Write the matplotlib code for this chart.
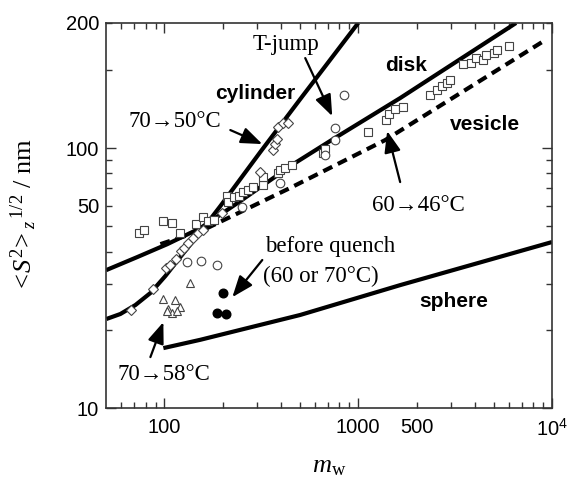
import matplotlib
matplotlib.use('Agg')
import matplotlib.pyplot as plt
from matplotlib.ticker import FixedLocator, FixedFormatter

plt.rcParams['font.family'] = ['Liberation Sans', 'DejaVu Sans']
plt.rcParams['mathtext.fontset'] = 'custom'
plt.rcParams['mathtext.rm'] = 'Liberation Serif'
plt.rcParams['mathtext.it'] = 'Liberation Serif:italic'
plt.rcParams['mathtext.sf'] = 'Liberation Sans'

# theory curves (m_w, <S2>_z^1/2 in nm)
cyl_m = [50.2, 59.3, 70.9, 84.7, 101.2, 120.9, 153.3, 194.4, 312.4, 502, 1000]
cyl_r = [22.0, 23.0, 24.9, 27.7, 32.2, 38.1, 47.5, 59.8, 96.5, 154.2, 302.8]
disk_m = [50, 72.6, 103.6, 153.3, 246.5, 462, 743, 1646, 6520]
disk_r = [33.9, 38.1, 42.7, 49.2, 62.5, 86.7, 108.3, 155.7, 302.8]
ves_m = [95.4, 158.8, 445, 1377, 9204]
ves_r = [42.7, 48.4, 70.2, 107.3, 260]
sph_m = [98.8, 153.3, 502, 1646, 10000]
sph_r = [17.0, 18.3, 22.8, 29.7, 43.5]

# measured points
sq_m = [74.3, 78.9, 98.8, 110, 120.9, 146.2, 158.9, 168.6, 181, 211.3, 213.8,
        229.6, 243.6, 255.5, 271, 287.6, 323.8, 323.8, 386.9, 396.3, 420.5,
        456.8, 660, 676, 1126, 1394, 1445, 1551, 1706, 2350, 2554, 2710, 2876,
        2980, 3476, 3823, 4057, 4409, 4568, 5023, 5207, 6002]
sq_r = [47.1, 48.4, 52.4, 51.5, 47.1, 51.0, 54.3, 52.4, 52.9, 65.4, 62.0,
        64.8, 65.4, 67.7, 69.0, 70.8, 72.1, 77.4, 80.1, 82.3, 83.8,
        86.0, 95.7, 99.1, 115.2, 128.1, 135.1, 141.3, 143.8, 159.9, 167.1, 173.2, 177.8,
        182.6, 210.4, 212.3, 221.9, 218.0, 227.9, 232.0, 238.2, 246.8]
dia_m = [67.6, 87.8, 102.4, 107.4, 115.3, 122.3, 126.8, 132.9, 141.1, 149.7,
         158.9, 199.1, 312.5, 364.6, 373.4, 382.3, 386.9, 410.6, 435.7]
dia_r = [23.8, 28.7, 34.6, 35.5, 37.4, 40.2, 41.2, 43.1, 45.1, 47.1,
         48.4, 56.2, 80.8, 98.2, 103.6, 108.3, 120.4, 124.8, 124.8]
cir_m = [131.4, 155.1, 187.6, 252.5, 396.3, 676, 761, 761, 847]
cir_r = [36.4, 36.8, 35.5, 59.3, 73.3, 94.0, 107.4, 119.4, 159.9]
tri_m = [136.2, 98.8, 113.9, 104.9, 120.9, 110, 103.6, 116.7]
tri_r = [30.3, 26.3, 26.0, 24.0, 24.5, 23.2, 23.6, 23.6]
fill_m = [201.4, 187.6, 208.7]
fill_r = [27.7, 23.2, 23.0]

fig = plt.figure(figsize=(5.67, 4.84), dpi=100)
ax = fig.add_axes([0.187, 0.157, 0.7866, 0.7955])
ax.set_xscale('log')
ax.set_yscale('log')
ax.set_xlim(50, 10000)
ax.set_ylim(10, 302.8)

lw = 3.0
ax.plot(cyl_m, cyl_r, color='black', lw=lw, solid_capstyle='butt', zorder=2)
ax.plot(disk_m, disk_r, color='black', lw=lw, solid_capstyle='butt', zorder=2)
ax.plot(ves_m, ves_r, color='black', lw=lw, ls=(0, (2.4, 1.5)), dash_capstyle='butt', zorder=2)
ax.plot(sph_m, sph_r, color='black', lw=lw, solid_capstyle='butt', zorder=2)

mk = dict(ls='none', mfc='white', mec='#444444', mew=0.8, zorder=3)
ax.plot(sq_m, sq_r, marker='s', ms=5.4, **mk)
ax.plot(dia_m, dia_r, marker='D', ms=4.8, **mk)
ax.plot(cir_m, cir_r, marker='o', ms=6.2, **mk)
ax.plot(tri_m, tri_r, marker='^', ms=6.0, **mk)
ax.plot(fill_m, fill_r, marker='o', ms=6.2, ls='none', mfc='black', mec='black', zorder=3)

# ticks
ax.xaxis.set_major_locator(FixedLocator([100, 1000, 10000]))
ax.xaxis.set_major_formatter(FixedFormatter(['100', '1000', r'$\mathsf{10^4}$']))
xminor = [60, 70, 80, 90] + [k * 100 for k in range(2, 10)] + [k * 1000 for k in range(2, 10)]
ax.xaxis.set_minor_locator(FixedLocator(xminor))
ax.xaxis.set_minor_formatter(FixedFormatter(['500' if v == 2000 else '' for v in xminor]))

ax.yaxis.set_major_locator(FixedLocator([10, 100]))
ax.yaxis.set_major_formatter(FixedFormatter(['10', '100']))
yminor = [20, 30, 40, 50, 60, 70, 80, 90, 200, 302.8]
ylab = {60: '50', 302.8: '200'}
ax.yaxis.set_minor_locator(FixedLocator(yminor))
ax.yaxis.set_minor_formatter(FixedFormatter([ylab.get(v, '') for v in yminor]))

ax.tick_params(which='both', direction='in', top=True, right=True,
               labelsize=14.5, color='#333333', width=1.0)
ax.tick_params(which='major', length=7)
ax.tick_params(which='minor', length=4.5)
ax.tick_params(axis='x', which='both', pad=7)
ax.tick_params(axis='y', which='both', pad=5)
for s in ax.spines.values():
    s.set_color('#333333')
    s.set_linewidth(1.2)

ax.set_xlabel(r'$m_{\mathrm{w}}$', fontsize=19)
ax.xaxis.set_label_coords(0.5, -0.12)
ax.set_ylabel(r'$<\!S^2\!>_z{}^{\,1/2}$ / nm', fontsize=19, family='Liberation Serif')
ax.yaxis.set_label_coords(-0.15, 0.5)

# curve labels
lab = dict(fontsize=15, fontweight='bold', ha='left', va='baseline')
ax.text(183.2, 154.3, 'cylinder', **lab)
ax.text(1378, 197.8, 'disk', **lab)
ax.text(2980, 117.3, 'vesicle', **lab)
ax.text(2063, 24.5, 'sphere', **lab)

ser = dict(fontsize=16.5, family='Liberation Serif', ha='left', va='baseline')
ax.text(284.2, 238.2, 'T-jump', **ser)
ax.text(65.2, 120.4, '70→50°C', **ser)
ax.text(1181, 57.2, '60→46°C', **ser)
ax.text(331.6, 39.8, 'before quench', **ser)
ax.text(323.8, 30.5, '(60 or 70°C)', **ser)
ax.text(57.2, 12.8, '70→58°C', **ser)

arr = dict(arrowstyle='-|>,head_length=1.3,head_width=0.5', lw=1.6, color='black',
           mutation_scale=10, shrinkA=0, shrinkB=0)
ax.annotate('', xy=(734.5, 132.7), xytext=(533, 221.9), arrowprops=arr)
ax.annotate('', xy=(320.1, 103.6), xytext=(218.9, 117.3), arrowprops=arr)
ax.annotate('', xy=(1411, 116.3), xytext=(1646, 74.0), arrowprops=arr)
ax.annotate('', xy=(224.2, 26.7), xytext=(320, 37.1), arrowprops=arr)
ax.annotate('', xy=(98.8, 21.4), xytext=(84.7, 15.7), arrowprops=arr)

fig.savefig('out.png', dpi=100)
